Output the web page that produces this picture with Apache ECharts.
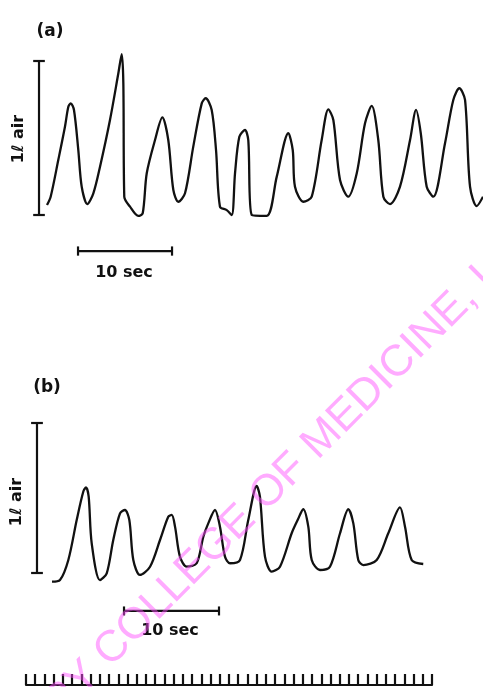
<!DOCTYPE html>
<html>
<head>
<meta charset="utf-8">
<script src="https://cdn.jsdelivr.net/npm/echarts@6/dist/echarts.min.js"></script>
<style>
html,body{margin:0;padding:0;background:#fff;}
#main{width:483px;height:687px;}
</style>
</head>
<body>
<div id="main"></div>
<script>
// ---- Trace (a): time (s) and volume (l) ----
const timeA = [0.0,0.39,1.20,1.91,2.27,2.52,2.87,3.33,3.69,4.29,4.93,5.64,6.70,7.59,7.95,8.12,8.22,8.83,9.71,10.18,10.61,11.49,12.27,12.90,13.44,13.97,14.68,15.56,16.46,16.88,17.52,17.98,18.40,19.12,19.65,20.00,20.46,21.06,21.41,21.78,23.37,24.44,25.67,26.14,26.38,27.27,28.16,29.22,29.93,30.46,31.17,32.05,32.95,33.83,34.54,35.24,35.78,36.49,37.55,38.62,39.26,39.76,40.39,41.10,42.34,43.22,43.86,44.47,45.00,45.71,46.38];
const volA = [0.065,0.119,0.357,0.573,0.703,0.725,0.682,0.422,0.184,0.071,0.141,0.314,0.617,0.920,1.045,0.857,0.119,0.054,-0.006,0.011,0.271,0.487,0.634,0.487,0.162,0.086,0.141,0.444,0.725,0.758,0.682,0.422,0.054,0.032,0.0,0.271,0.508,0.552,0.487,0.0,-0.006,0.249,0.531,0.422,0.184,0.086,0.119,0.487,0.686,0.617,0.227,0.119,0.271,0.595,0.708,0.487,0.119,0.071,0.184,0.487,0.682,0.531,0.184,0.119,0.466,0.747,0.823,0.747,0.184,0.058,0.119];

// ---- Trace (b): time (s) and volume (l) ----
const timeB = [0.0,0.84,1.72,2.60,3.29,3.58,3.86,4.18,5.05,5.76,6.45,7.16,7.68,8.14,8.56,9.26,10.32,11.37,12.24,12.60,12.95,13.47,14.18,15.23,15.93,16.45,17.16,17.68,18.21,18.74,19.79,20.66,21.55,21.89,22.42,23.13,24.00,25.23,25.86,26.45,26.98,27.34,28.21,29.26,30.32,31.19,31.72,32.24,32.77,34.18,35.40,36.63,37.16,37.86,39.08];
const volB = [-0.058,-0.047,0.087,0.353,0.542,0.571,0.509,0.198,-0.047,-0.002,0.220,0.398,0.420,0.353,0.087,-0.013,0.042,0.220,0.375,0.387,0.309,0.109,0.042,0.065,0.242,0.331,0.420,0.309,0.109,0.065,0.087,0.353,0.580,0.509,0.109,0.009,0.042,0.265,0.353,0.425,0.309,0.087,0.020,0.042,0.265,0.425,0.331,0.087,0.053,0.087,0.265,0.438,0.309,0.087,0.060];

// ---- Scale bars (data units) ----
const volumeBar = [0, 1];            // 1 l
const timeBarA = [3.3, 13.3];        // 10 s
const timeBarB = [7.58, 17.58];      // 10 s
const volBarXA = -0.85, volBarXB = -1.58;
const timeBarYA = -0.234, timeBarYB = -0.253;

// ---- Time-marker ruler ----
const rulerMarks = 44;   // one mark per second, 0..44

const labels = { a: '(a)', b: '(b)', vol: '1ℓ air', time: '10 sec' };
const watermark = 'PY COLLEGE OF MEDICINE, UN';

const zip = (t, v) => t.map((x, i) => [x, v[i]]);
const ink = '#111111';

function seg(grid, pts, w) {
  return { type: 'line', xAxisIndex: grid, yAxisIndex: grid, data: pts, symbol: 'none',
    lineStyle: { color: ink, width: w || 2.2 }, silent: true, animation: false, clip: false };
}
function volScale(grid, x) {
  const c = 0.62;
  return [
    seg(grid, [[x, volumeBar[0]], [x, volumeBar[1]]]),
    seg(grid, [[x - c, volumeBar[0]], [x + c, volumeBar[0]]]),
    seg(grid, [[x - c, volumeBar[1]], [x + c, volumeBar[1]]])
  ];
}
function timeScale(grid, t, y) {
  const c = 0.03;
  return [
    seg(grid, [[t[0], y], [t[1], y]]),
    seg(grid, [[t[0], y - c], [t[0], y + c]]),
    seg(grid, [[t[1], y - c], [t[1], y + c]])
  ];
}

const hiddenAxis = (grid, min, max) => ({ type: 'value', gridIndex: grid, min, max, show: false });

const chart = echarts.init(document.getElementById('main'), null, { renderer: 'canvas' });

const txt = (x, y, text, font, rot) => ({ type: 'text', x, y, rotation: rot || 0, z: 50,
  style: { text, font, fill: ink, align: 'center', verticalAlign: 'middle' } });

const option = {
  backgroundColor: '#ffffff',
  animation: false,
  grid: [
    { left: 0, width: 483, top: 22.5, height: 269.5 },
    { left: 0, width: 483, top: 385.5, height: 262.5 },
    { left: 26, width: 406, top: 673, height: 12 }
  ],
  xAxis: [
    hiddenAxis(0, -5.0, 46.38),
    hiddenAxis(1, -5.474, 45.37),
    { type: 'value', gridIndex: 2, min: 0, max: rulerMarks, interval: 1, position: 'bottom',
      axisLine: { show: true, lineStyle: { color: ink, width: 2.2 } },
      axisTick: { show: true, inside: true, length: 11, lineStyle: { color: ink, width: 2.2 } },
      axisLabel: { show: false }, splitLine: { show: false } }
  ],
  yAxis: [
    hiddenAxis(0, -0.5, 1.25),
    hiddenAxis(1, -0.5, 1.25),
    hiddenAxis(2, 0, 1)
  ],
  series: [
    { type: 'line', xAxisIndex: 0, yAxisIndex: 0, data: zip(timeA, volA), symbol: 'none', smooth: 0.3,
      lineStyle: { color: ink, width: 2.3 }, clip: false },
    { type: 'line', xAxisIndex: 1, yAxisIndex: 1, data: zip(timeB, volB), symbol: 'none', smooth: 0.3,
      lineStyle: { color: ink, width: 2.3 }, clip: false },
    ...volScale(0, volBarXA),
    ...volScale(1, volBarXB),
    ...timeScale(0, timeBarA, timeBarYA),
    ...timeScale(1, timeBarB, timeBarYB),
    { type: 'scatter', xAxisIndex: 2, yAxisIndex: 2, data: [], silent: true }
  ],
  graphic: [
    txt(50, 32, labels.a, 'bold 17px "DejaVu Sans"'),
    txt(47, 388, labels.b, 'bold 17px "DejaVu Sans"'),
    txt(19, 139, labels.vol, 'bold 16px "DejaVu Sans"', Math.PI / 2),
    txt(17, 502, labels.vol, 'bold 16px "DejaVu Sans"', Math.PI / 2),
    txt(124, 273, labels.time, 'bold 16px "DejaVu Sans"'),
    txt(170, 631, labels.time, 'bold 16px "DejaVu Sans"'),
    { type: 'text', x: 36, y: 694, rotation: Math.PI / 4, z: 100,
      style: { text: watermark, font: '44px "Liberation Sans"', fill: 'rgba(255,80,255,0.48)', align: 'left', verticalAlign: 'alphabetic' } }
  ]
};
chart.setOption(option);
</script>
</body>
</html>
